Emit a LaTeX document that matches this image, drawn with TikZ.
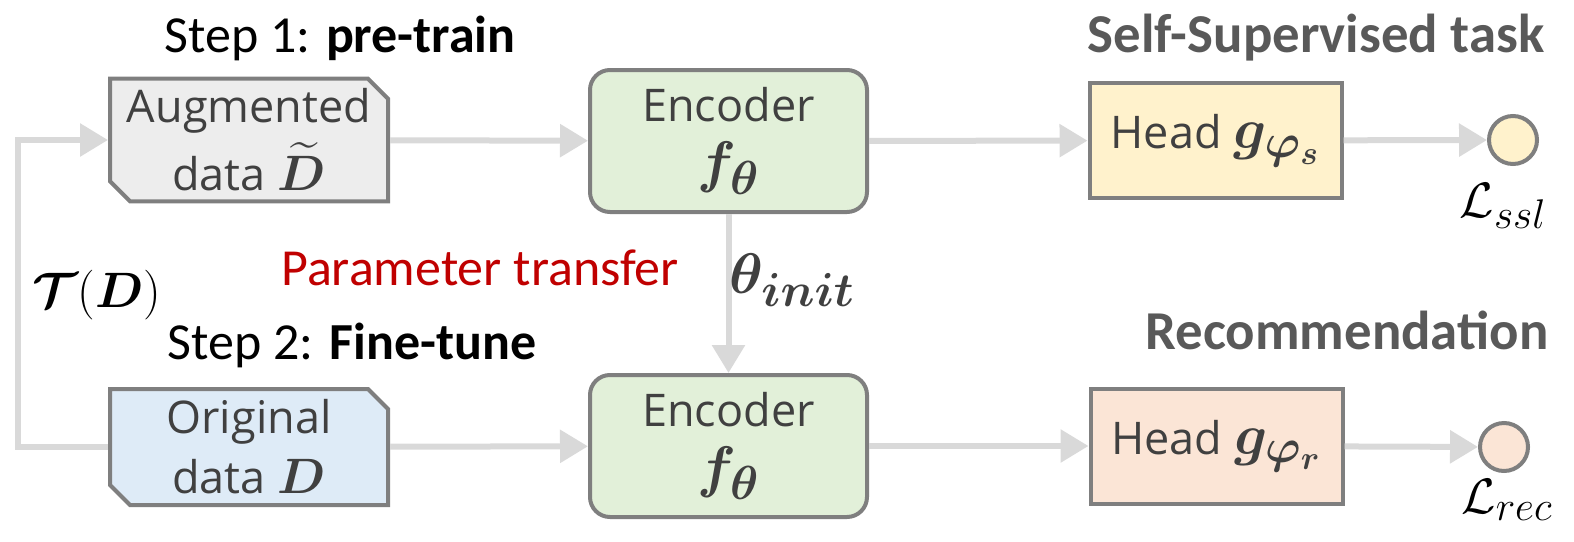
\documentclass[tikz,border=0pt]{standalone}
\usepackage{fontspec}
\usepackage{amsmath,bm,graphicx}
\setmainfont{Carlito}
\newfontfamily\boxfont{Open Sans}
\usetikzlibrary{arrows.meta,shapes.misc}
\definecolor{arrowgray}{HTML}{D9D9D9}
\definecolor{bordergray}{HTML}{7F7F7F}
\definecolor{txtdark}{HTML}{404040}
\definecolor{headgray}{HTML}{595959}
\definecolor{augfill}{HTML}{EDEDED}
\definecolor{origfill}{HTML}{DEEBF7}
\definecolor{encfill}{HTML}{E2F0D9}
\definecolor{sslfill}{HTML}{FFF2CC}
\definecolor{recfill}{HTML}{FBE5D6}
\definecolor{redtxt}{HTML}{C00000}
\newcommand{\mybigmath}[1]{{\fontsize{29}{30}\selectfont$#1$}}
\newcommand{\myhugemath}[1]{\scalebox{1.15}{\fontsize{29}{30}\selectfont$#1$}}
\tikzset{
  boxtext/.style={font=\boxfont\fontsize{22.5}{30}\selectfont, text=txtdark, align=center, inner sep=0pt},
  databox/.style={boxtext, draw=bordergray, line width=2pt, chamfered rectangle,
     chamfered rectangle corners={north east,south west}, chamfered rectangle xsep=5pt,
     chamfered rectangle ysep=5pt, minimum width=139pt, minimum height=58pt},
  encbox/.style={boxtext, draw=bordergray, line width=2pt, fill=encfill, rounded corners=10pt,
     minimum width=138.5pt, minimum height=71pt},
  headbox/.style={boxtext, draw=bordergray, line width=2pt, minimum width=126pt, minimum height=57.5pt},
  losscirc/.style={circle, draw=bordergray, line width=2pt, minimum size=24pt, inner sep=0pt},
  conn/.style={draw=arrowgray, line width=3pt, -{Triangle[length=14pt,width=16pt]}},
  lbl/.style={font=\fontsize{26}{30}\selectfont, inner sep=0pt},
  title/.style={lbl, font=\fontsize{27.4}{30}\selectfont\bfseries, text=headgray},
}
\begin{document}
\begin{tikzpicture}[x=0.5pt,y=-0.5pt]
\useasboundingbox (0,0) rectangle (1574,541);
% nodes
\node[databox, fill=augfill] (aug) at (249,140) {Augmented\\[4pt]data \mybigmath{\widetilde{\bm{D}}}};
\node[databox, fill=origfill] (orig) at (249,447) {Original\\data \mybigmath{\bm{D}}};
\node[encbox] (enc1) at (728.5,141) {Encoder\\\myhugemath{\bm{f}_{\bm{\theta}}}};
\node[encbox] (enc2) at (728.5,446) {Encoder\\\myhugemath{\bm{f}_{\bm{\theta}}}};
\node[headbox, fill=sslfill] (head1) at (1215.5,140.5) {Head \myhugemath{\bm{g}_{\bm{\varphi_s}}}};
\node[headbox, fill=recfill] (head2) at (1216.5,446) {Head \myhugemath{\bm{g}_{\bm{\varphi_r}}}};
\node[losscirc, fill=sslfill] (l1) at (1513,140) {};
\node[losscirc, fill=recfill] (l2) at (1504,447) {};
\coordinate (lb) at (18,447);
\coordinate (lt) at (18,140);
% connectors
\draw[conn] (orig.west) -- (lb) -- (lt) -- (aug.west);
\draw[conn] (aug) -- (enc1);
\draw[conn] (enc1) -- (head1);
\draw[conn] (head1) -- (l1);
\draw[conn] (orig) -- (enc2);
\draw[conn] (enc2) -- (head2);
\draw[conn] (head2) -- (l2);
\draw[conn] (enc1) -- (enc2);
% labels
\node[lbl] (s1) at (340,38) {Step 1: \textbf{pre-train}};
\node[title] (t1) at (1316,38) {Self-Supervised task};
\node[lbl, text=redtxt] (pt) at (480,268) {Parameter transfer};
\node[lbl, text=txtdark] (th) at (792,280) {\myhugemath{\bm{\theta}_{\bm{init}}}};
\node[lbl] (td) at (97,295) {\mybigmath{\bm{\mathcal{T}}(\bm{D})}};
\node[lbl] (s2) at (352,345) {Step 2: \textbf{Fine-tune}};
\node[title] (t2) at (1347,330) {Recommendation};
\node[lbl] (ls) at (1503,206) {\mybigmath{\mathcal{L}_{ssl}}};
\node[lbl] (lr) at (1507,500) {\mybigmath{\mathcal{L}_{rec}}};
\end{tikzpicture}
\end{document}
